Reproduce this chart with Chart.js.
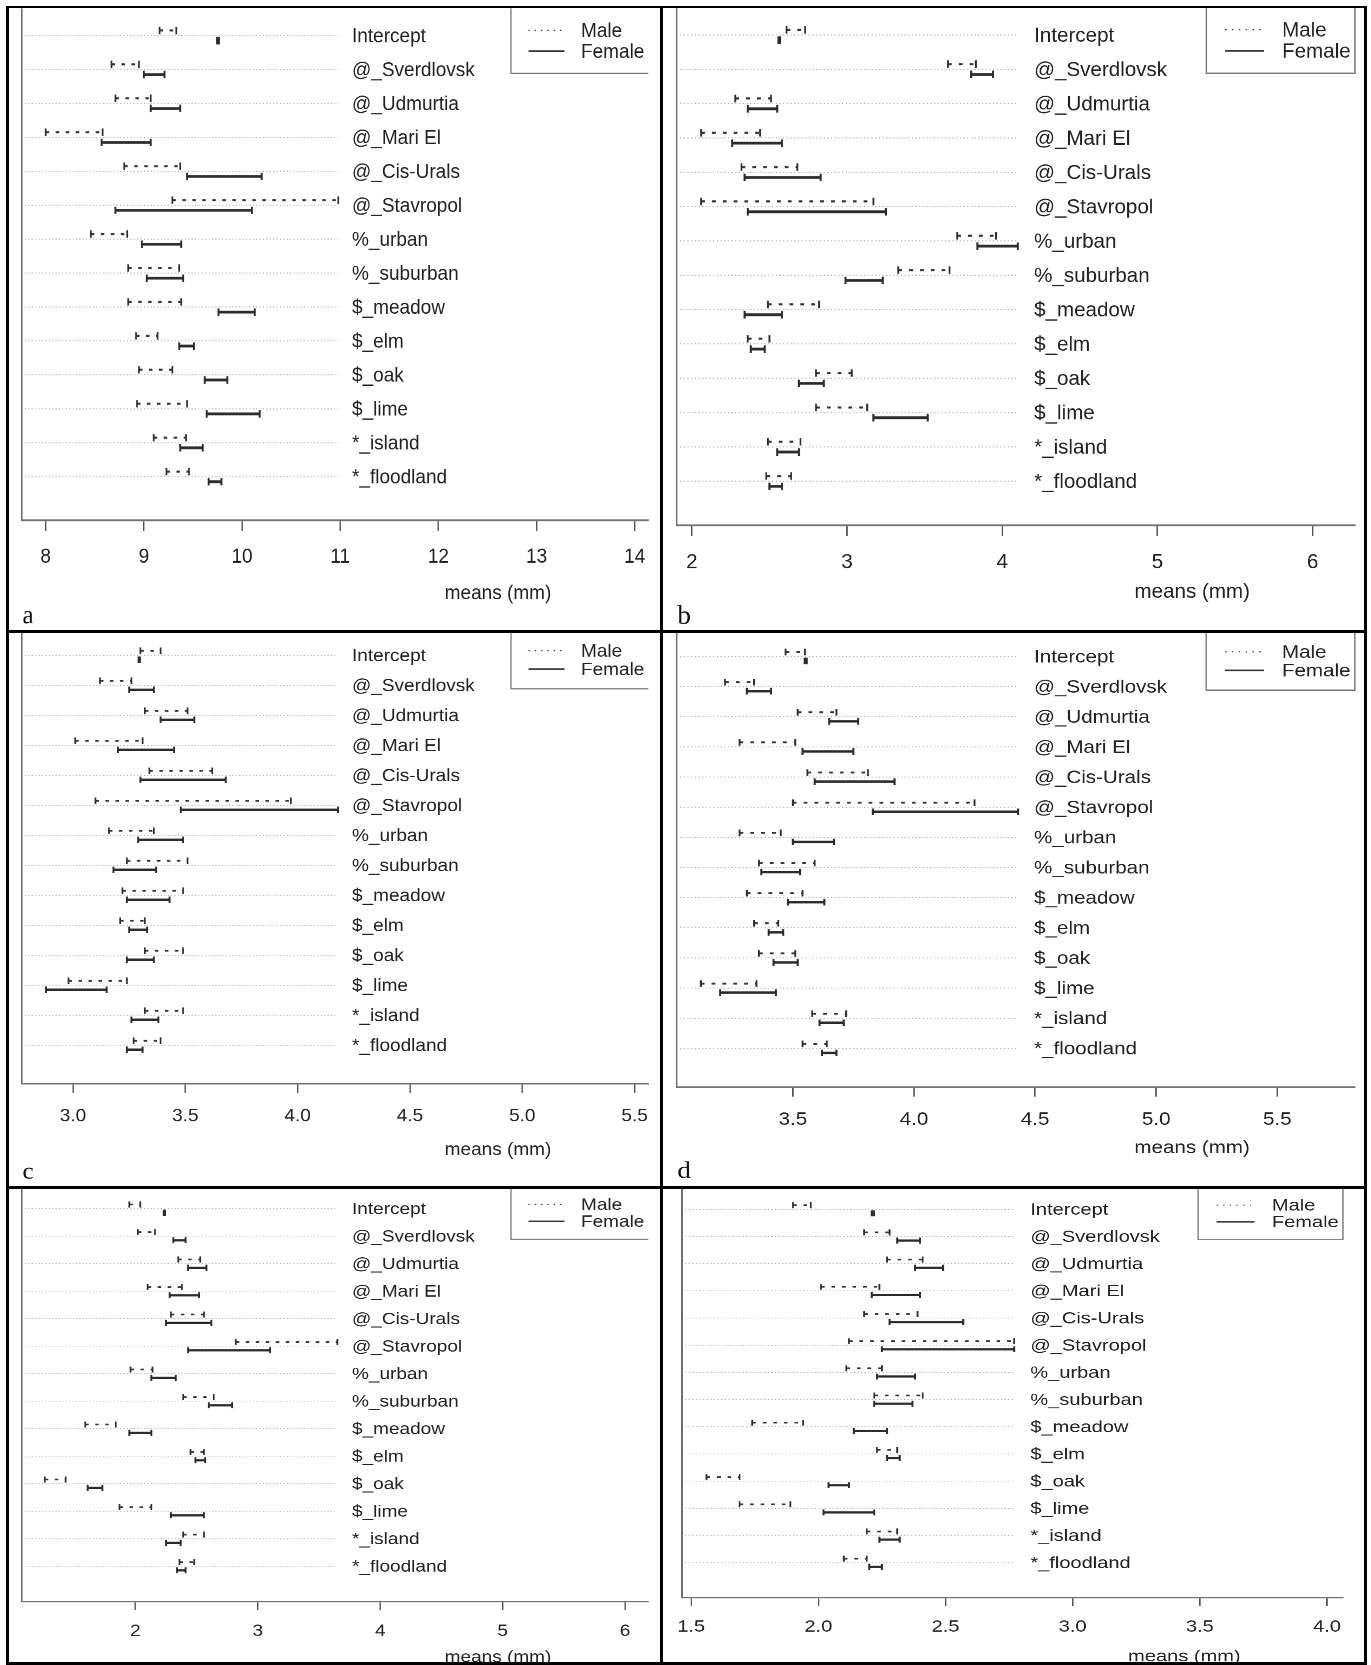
<!DOCTYPE html>
<html>
<head>
<meta charset="utf-8">
<title>Means by region, habitat and sex</title>
<script src="https://cdn.jsdelivr.net/npm/chart.js@4/dist/chart.umd.min.js"></script>
<style>
  html, body { margin: 0; padding: 0; background: #fff; }
  body { width: 1371px; height: 1665px; position: relative; overflow: hidden; }
  .cell { position: absolute; overflow: hidden; }
  .cell canvas { position: absolute; transform-origin: 0 0; }
  .rule { position: absolute; background: #000; z-index: 5; }
</style>
</head>
<body>
<script>
// Row labels shared by all six panels
const categories = ['Intercept', '@_Sverdlovsk', '@_Udmurtia', '@_Mari El', '@_Cis-Urals',
  '@_Stavropol', '%_urban', '%_suburban', '$_meadow', '$_elm', '$_oak', '$_lime',
  '*_island', '*_floodland'];

// Panel a
const aMaleLow    = [9.16, 8.67, 8.71, 8.00, 8.80, 9.29, 8.46, 8.84, 8.84, 8.92, 8.95, 8.93, 9.10, 9.23];
const aMaleHigh   = [9.33, 8.95, 9.07, 8.58, 9.37, 10.98, 8.83, 9.36, 9.38, 9.14, 9.29, 9.44, 9.43, 9.46];
const aFemaleLow  = [9.745, 9.00, 9.07, 8.57, 9.44, 8.71, 8.98, 9.03, 9.76, 9.36, 9.62, 9.64, 9.37, 9.66];
const aFemaleHigh = [9.765, 9.21, 9.37, 9.07, 10.20, 10.10, 9.38, 9.40, 10.13, 9.51, 9.85, 10.18, 9.60, 9.79];
const aTicks = [8, 9, 10, 11, 12, 13, 14];
const aTickLabels = ['8', '9', '10', '11', '12', '13', '14'];

// Panel b
const bMaleLow    = [2.61, 3.65, 2.28, 2.06, 2.32, 2.06, 3.71, 3.33, 2.49, 2.36, 2.80, 2.80, 2.49, 2.48];
const bMaleHigh   = [2.73, 3.83, 2.51, 2.44, 2.68, 3.17, 3.96, 3.66, 2.82, 2.50, 3.03, 3.13, 2.70, 2.64];
const bFemaleLow  = [2.558, 3.80, 2.36, 2.26, 2.34, 2.36, 3.84, 2.99, 2.34, 2.38, 2.69, 3.17, 2.55, 2.50];
const bFemaleHigh = [2.568, 3.94, 2.55, 2.58, 2.83, 3.25, 4.10, 3.23, 2.58, 2.47, 2.85, 3.52, 2.69, 2.58];
const bTicks = [2, 3, 4, 5, 6];
const bTickLabels = ['2', '3', '4', '5', '6'];

// Panel c
const cMaleLow    = [3.30, 3.12, 3.32, 3.01, 3.34, 3.10, 3.16, 3.24, 3.22, 3.21, 3.32, 2.98, 3.32, 3.27];
const cMaleHigh   = [3.39, 3.26, 3.51, 3.31, 3.62, 3.97, 3.36, 3.51, 3.49, 3.32, 3.49, 3.24, 3.49, 3.39];
const cFemaleLow  = [3.292, 3.25, 3.39, 3.20, 3.30, 3.48, 3.29, 3.18, 3.24, 3.25, 3.24, 2.88, 3.26, 3.24];
const cFemaleHigh = [3.298, 3.36, 3.54, 3.45, 3.68, 4.18, 3.49, 3.37, 3.43, 3.33, 3.36, 3.15, 3.38, 3.31];
const cTicks = [3.0, 3.5, 4.0, 4.5, 5.0, 5.5];
const cTickLabels = ['3.0', '3.5', '4.0', '4.5', '5.0', '5.5'];

// Panel d
const dMaleLow    = [3.47, 3.22, 3.52, 3.28, 3.56, 3.50, 3.28, 3.36, 3.31, 3.34, 3.36, 3.12, 3.58, 3.54];
const dMaleHigh   = [3.55, 3.34, 3.68, 3.51, 3.81, 4.25, 3.45, 3.59, 3.54, 3.44, 3.51, 3.35, 3.72, 3.64];
const dFemaleLow  = [3.549, 3.31, 3.65, 3.54, 3.59, 3.83, 3.50, 3.37, 3.48, 3.40, 3.42, 3.20, 3.61, 3.62];
const dFemaleHigh = [3.557, 3.41, 3.77, 3.75, 3.92, 4.43, 3.67, 3.53, 3.63, 3.46, 3.52, 3.43, 3.71, 3.68];
const dTicks = [3.5, 4.0, 4.5, 5.0, 5.5];
const dTickLabels = ['3.5', '4.0', '4.5', '5.0', '5.5'];

// Panel e
const eMaleLow    = [1.95, 2.02, 2.35, 2.10, 2.29, 2.82, 1.96, 2.39, 1.59, 2.45, 1.26, 1.87, 2.39, 2.36];
const eMaleHigh   = [2.04, 2.16, 2.53, 2.38, 2.56, 3.65, 2.14, 2.64, 1.84, 2.56, 1.43, 2.13, 2.56, 2.48];
const eFemaleLow  = [2.232, 2.31, 2.43, 2.28, 2.25, 2.43, 2.13, 2.60, 1.95, 2.49, 1.61, 2.29, 2.25, 2.34];
const eFemaleHigh = [2.242, 2.41, 2.58, 2.52, 2.62, 3.10, 2.33, 2.79, 2.13, 2.57, 1.73, 2.56, 2.37, 2.41];
const eTicks = [2, 3, 4, 5, 6];
const eTickLabels = ['2', '3', '4', '5', '6'];

// Panel f
const fMaleLow    = [1.90, 2.18, 2.27, 2.01, 2.18, 2.12, 2.11, 2.22, 1.74, 2.23, 1.56, 1.69, 2.19, 2.10];
const fMaleHigh   = [1.97, 2.28, 2.41, 2.24, 2.39, 2.77, 2.25, 2.41, 1.94, 2.31, 1.69, 1.89, 2.31, 2.19];
const fFemaleLow  = [2.210, 2.31, 2.38, 2.21, 2.28, 2.25, 2.23, 2.22, 2.14, 2.27, 2.04, 2.02, 2.24, 2.20];
const fFemaleHigh = [2.218, 2.40, 2.49, 2.40, 2.57, 2.77, 2.38, 2.37, 2.27, 2.32, 2.12, 2.22, 2.32, 2.25];
const fTicks = [1.5, 2.0, 2.5, 3.0, 3.5, 4.0];
const fTickLabels = ['1.5', '2.0', '2.5', '3.0', '3.5', '4.0'];

const FONT = '"Liberation Sans", Arial, Helvetica, sans-serif';
Chart.defaults.font.family = FONT;

// Every panel is drawn on the same base layout, then stretched to its own frame.
const NW = 700, NH = 620, L0 = 22, T0 = 10, CW = 626.3, CH = 489.5;

const panels = [
  { letter: 'a', ml: aMaleLow, mh: aMaleHigh, fl: aFemaleLow, fh: aFemaleHigh, ticks: aTicks, tickLabels: aTickLabels,
    xMin: 7.7586, xMax: 14.138, cell: [0, 8, 649, 623], chartX: 22, chartY: 9.0, kx: 1, ky: 1.0439,
    titleDy: 70.2, letterDy: 98.6, legendRight: false },
  { letter: 'b', ml: bMaleLow, mh: bMaleHigh, fl: bFemaleLow, fh: bFemaleHigh, ticks: bTicks, tickLabels: bTickLabels,
    xMin: 1.9034, xMax: 6.272, cell: [662, 8, 709, 623], chartX: 676.7, chartY: 8.1, kx: 1.0827, ky: 1.0560,
    titleDy: 63.2, letterDy: 92.9, legendRight: true },
  { letter: 'c', ml: cMaleLow, mh: cMaleHigh, fl: cFemaleLow, fh: cFemaleHigh, ticks: cTicks, tickLabels: cTickLabels,
    xMin: 2.773, xMax: 5.561, cell: [0, 631, 649, 556], chartX: 22, chartY: 631.8, kx: 1, ky: 0.9228,
    titleDy: 71.6, letterDy: 102.5, legendRight: false },
  { letter: 'd', ml: dMaleLow, mh: dMaleHigh, fl: dFemaleLow, fh: dFemaleHigh, ticks: dTicks, tickLabels: dTickLabels,
    xMin: 3.021, xMax: 5.820, cell: [662, 631, 709, 556], chartX: 676.8, chartY: 632.8, kx: 1.0825, ky: 0.9275,
    titleDy: 65.6, letterDy: 97.5, legendRight: true },
  { letter: '', ml: eMaleLow, mh: eMaleHigh, fl: eFemaleLow, fh: eFemaleHigh, ticks: eTicks, tickLabels: eTickLabels,
    xMin: 1.0735, xMax: 6.190, cell: [0, 1187, 649, 478], chartX: 22, chartY: 1187.8, kx: 1, ky: 0.8462,
    titleDy: 66.4, letterDy: 0, legendRight: false },
  { letter: '', ml: fMaleLow, mh: fMaleHigh, fl: fFemaleLow, fh: fFemaleHigh, ticks: fTicks, tickLabels: fTickLabels,
    xMin: 1.4646, xMax: 4.0627, cell: [662, 1187, 709, 478], chartX: 681.8, chartY: 1188.1, kx: 1.0549, ky: 0.8364,
    titleDy: 70.8, letterDy: 0, legendRight: true }
];

// One segment per row, separated by a gap point so the line breaks between rows.
function segments(lows, highs, offset) {
  const pts = [];
  lows.forEach((lo, i) => {
    pts.push({ x: lo, y: i + offset }, { x: highs[i], y: i + offset }, { x: highs[i], y: null });
  });
  return pts;
}

function decorations(p) {
  return {
    id: 'decor',
    beforeDatasetsDraw(chart) {
      const { ctx, chartArea: ca, scales: { x, y } } = chart;
      const end = x.getPixelForValue(Math.max(...p.mh, ...p.fh));
      ctx.save();
      ctx.strokeStyle = '#a8a8a8';
      ctx.lineWidth = 1;
      ctx.setLineDash([1, 2.4]);
      categories.forEach((c, i) => {
        const yy = y.getPixelForValue(i);
        ctx.beginPath();
        ctx.moveTo(ca.left + 3, yy);
        ctx.lineTo(end, yy);
        ctx.stroke();
      });
      ctx.restore();
    },
    afterDraw(chart) {
      const { ctx, chartArea: ca, scales: { y } } = chart;
      ctx.save();
      ctx.fillStyle = '#222';
      ctx.font = '19px ' + FONT;
      ctx.textAlign = 'left';
      ctx.textBaseline = 'middle';
      categories.forEach((c, i) => ctx.fillText(c, ca.left + 330, y.getPixelForValue(i) + 1));

      // legend box in the upper right corner
      const lx = ca.left + 489, lb = ca.top + 61.3;
      ctx.strokeStyle = '#7a7a7a';
      ctx.lineWidth = 1.3;
      ctx.beginPath();
      ctx.moveTo(lx, ca.top - 1);
      ctx.lineTo(lx, lb);
      ctx.lineTo(ca.right, lb);
      if (p.legendRight) ctx.lineTo(ca.right, ca.top - 1);
      ctx.stroke();

      ctx.strokeStyle = '#333';
      ctx.lineWidth = 1.2;
      ctx.setLineDash([1.3, 5]);
      ctx.beginPath();
      ctx.moveTo(lx + 17.5, ca.top + 20);
      ctx.lineTo(lx + 53.5, ca.top + 20);
      ctx.stroke();
      ctx.setLineDash([]);
      ctx.lineWidth = 1.8;
      ctx.beginPath();
      ctx.moveTo(lx + 17.5, ca.top + 40);
      ctx.lineTo(lx + 53.5, ca.top + 40);
      ctx.stroke();
      ctx.fillText('Male', lx + 70, ca.top + 21.5);
      ctx.fillText('Female', lx + 70, ca.top + 41.5);

      // axis title
      ctx.textAlign = 'center';
      ctx.fillText('means (mm)', ca.left + 0.76 * (ca.right - ca.left), ca.bottom + p.titleDy);

      // panel letter
      if (p.letter) {
        ctx.textAlign = 'left';
        ctx.textBaseline = 'alphabetic';
        ctx.font = '25px "Liberation Serif", "Times New Roman", serif';
        ctx.fillStyle = '#111';
        ctx.fillText(p.letter, ca.left + 0.5, ca.bottom + p.letterDy);
      }
      ctx.restore();
    }
  };
}

panels.forEach(p => {
  const cell = document.createElement('div');
  cell.className = 'cell';
  Object.assign(cell.style, {
    left: p.cell[0] + 'px', top: p.cell[1] + 'px', width: p.cell[2] + 'px', height: p.cell[3] + 'px'
  });
  const cv = document.createElement('canvas');
  cv.width = NW;
  cv.height = NH;
  Object.assign(cv.style, {
    width: NW + 'px', height: NH + 'px',
    left: (p.chartX - L0 * p.kx - p.cell[0]) + 'px',
    top: (p.chartY - T0 * p.ky - p.cell[1]) + 'px',
    transform: `scale(${p.kx}, ${p.ky})`
  });
  cell.appendChild(cv);
  document.body.appendChild(cell);

  new Chart(cv, {
    type: 'scatter',
    data: {
      datasets: [
        {
          label: 'Male',
          data: segments(p.ml, p.mh, -0.15),
          showLine: true,
          borderColor: '#333',
          borderWidth: 2,
          borderDash: [3.5, 6.5],
          pointStyle: 'line',
          rotation: 90,
          pointRadius: 3.6,
          pointHoverRadius: 3.6,
          pointBorderWidth: 1.7,
          pointBorderColor: '#2e2e2e',
          pointBackgroundColor: '#2e2e2e'
        },
        {
          label: 'Female',
          data: segments(p.fl, p.fh, 0.15),
          showLine: true,
          borderColor: '#2b2b2b',
          borderWidth: 2.6,
          pointStyle: 'line',
          rotation: 90,
          pointRadius: 3.6,
          pointHoverRadius: 3.6,
          pointBorderWidth: 1.9,
          pointBorderColor: '#2b2b2b',
          pointBackgroundColor: '#2b2b2b'
        }
      ]
    },
    options: {
      responsive: false,
      animation: false,
      devicePixelRatio: 2,
      events: [],
      layout: { padding: { left: L0, top: T0, right: NW - L0 - CW, bottom: 0 } },
      plugins: { legend: { display: false }, tooltip: { enabled: false } },
      scales: {
        x: {
          type: 'linear',
          position: 'bottom',
          bounds: 'data',
          min: p.xMin,
          max: p.xMax,
          afterBuildTicks: s => { s.ticks = p.ticks.map(v => ({ value: v })); },
          afterFit: s => { s.height = NH - T0 - CH; s.paddingLeft = 0; s.paddingRight = 0; },
          ticks: {
            autoSkip: false,
            maxRotation: 0,
            padding: 14,
            color: '#222',
            font: { size: 19, family: FONT },
            callback: (v, i) => p.tickLabels[i]
          },
          grid: { display: true, drawOnChartArea: false, drawTicks: true, tickLength: 10, color: '#555', lineWidth: 1.4 },
          border: { display: true, color: '#707070', width: 1.6 }
        },
        y: {
          type: 'linear',
          position: 'left',
          reverse: true,
          bounds: 'data',
          min: -0.77,
          max: 14.29,
          ticks: { display: false },
          grid: { display: false, drawTicks: false },
          border: { display: true, color: '#707070', width: 1.6 },
          afterFit: s => { s.width = 0; s.paddingTop = 0; s.paddingBottom = 0; }
        }
      }
    },
    plugins: [decorations(p)]
  });
});

// Black frame and dividers around the six panels
[
  [6, 6, 1361, 2], [6, 1662, 1361, 3], [6, 6, 3, 1659], [1364, 6, 3, 1659],
  [660, 6, 3, 1659], [6, 630, 1361, 3], [6, 1186, 1361, 3]
].forEach(r => {
  const d = document.createElement('div');
  d.className = 'rule';
  Object.assign(d.style, { left: r[0] + 'px', top: r[1] + 'px', width: r[2] + 'px', height: r[3] + 'px' });
  document.body.appendChild(d);
});
</script>
</body>
</html>
